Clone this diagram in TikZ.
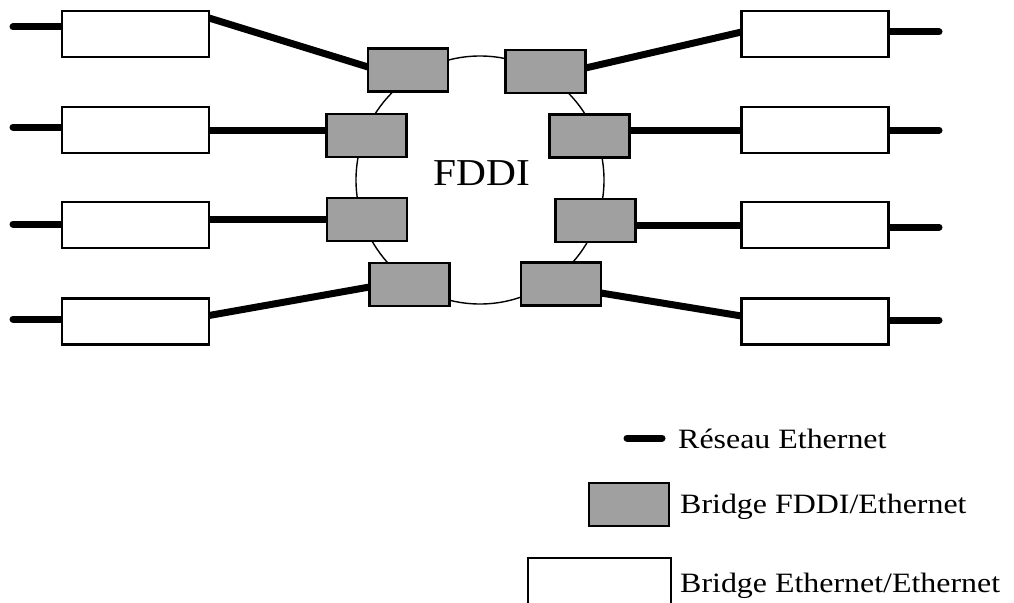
\documentclass[tikz,border=0pt]{standalone}
\usepackage{fontspec}
\setmainfont{Liberation Serif}
\usetikzlibrary{calc}
\pgfdeclarelayer{bg}
\pgfsetlayers{bg,main}
\definecolor{bgray}{RGB}{160,160,160}
\tikzset{
  ebox/.style={draw=black, line width=2.2pt, fill=white, minimum width=147pt, minimum height=46pt, inner sep=0pt, outer sep=0pt},
  fbox/.style={draw=black, line width=2.5pt, fill=bgray, minimum width=80pt, minimum height=43pt, inner sep=0pt, outer sep=0pt},
  eth/.style={line width=7pt, line cap=round},
  ringstyle/.style={draw=black, line width=1.4pt, circle, minimum size=248pt, inner sep=0pt, outer sep=0pt},
  lbl/.style={anchor=base west, inner sep=0pt, font=\fontsize{28}{30}\selectfont},
}
\begin{document}
\begin{tikzpicture}[x=1pt,y=-1pt]
\useasboundingbox (0,0) rectangle (1014,602);
\clip (0,0) rectangle (1014,602);
\begin{pgfonlayer}{bg}
  \fill[white] (0,0) rectangle (1014,602);
\end{pgfonlayer}

% FDDI ring
\node[ringstyle] (ring) at (480,180) {};
\node[anchor=base, inner sep=0pt, font=\fontsize{38}{40}\selectfont] (fddi) at (482,185) {\scalebox{1.09}[1]{FDDI}};

% Ethernet/Ethernet bridges
\node[ebox] (W1) at (135.5,34) {};
\node[ebox] (W2) at (135.5,130) {};
\node[ebox] (W3) at (135.5,225) {};
\node[ebox] (W4) at (135.5,321.5) {};
\node[ebox] (V1) at (815,34) {};
\node[ebox] (V2) at (815,130) {};
\node[ebox] (V3) at (815,225) {};
\node[ebox] (V4) at (815,321.5) {};

% FDDI/Ethernet bridges
\node[fbox] (B1) at (408,70) {};
\node[fbox] (B2) at (366.5,135.5) {};
\node[fbox] (B3) at (367,219.5) {};
\node[fbox] (B4) at (409.5,284.5) {};
\node[fbox] (C1) at (545.5,71.5) {};
\node[fbox] (C2) at (589.5,136) {};
\node[fbox] (C3) at (595.5,220.5) {};
\node[fbox] (C4) at (561,284) {};

% stub ends
\coordinate (s1) at (13,27);
\coordinate (s2) at (13,127);
\coordinate (s3) at (13,224);
\coordinate (s4) at (13,319);
\coordinate (t1) at (939,32);
\coordinate (t2) at (939,130);
\coordinate (t3) at (939,227);
\coordinate (t4) at (939,320);

\begin{pgfonlayer}{bg}
  % left stubs
  \draw[eth] (s1) -- (s1 -| W1.west);
  \draw[eth] (s2) -- (s2 -| W2.west);
  \draw[eth] (s3) -- (s3 -| W3.west);
  \draw[eth] (s4) -- (s4 -| W4.west);
  % right stubs
  \draw[eth] (t1) -- (t1 -| V1.east);
  \draw[eth] (t2) -- (t2 -| V2.east);
  \draw[eth] (t3) -- (t3 -| V3.east);
  \draw[eth] (t4) -- (t4 -| V4.east);
  % left connectors
  \draw[eth] ([yshift=16pt]W1.east) -- ([yshift=3pt]B1.west);
  \draw[eth] (W2.east) -- (W2.east -| B2.west);
  \draw[eth] (B3.west) -- (B3.west -| W3.east);
  \draw[eth] ([yshift=6pt]W4.east) -- ([yshift=-2.5pt]B4.west);
  % right connectors
  \draw[eth] ([yshift=3.5pt]C1.east) -- ([yshift=2pt]V1.west);
  \draw[eth] (V2.west) -- (V2.west -| C2.east);
  \draw[eth] (V3.west) -- (V3.west -| C3.east);
  \draw[eth] ([yshift=-9pt]C4.east) -- ([yshift=5.5pt]V4.west);
\end{pgfonlayer}

% legend
\coordinate (la) at (627,438);
\coordinate (lb) at (662,438);
\draw[eth] (la) -- (lb);
\node[lbl] (l1) at (678,448) {\scalebox{1.14}[1]{Réseau Ethernet}};
\node[fbox] (lg) at (629,504.5) {};
\node[lbl] (l2) at (680,513) {\scalebox{1.14}[1]{Bridge FDDI/Ethernet}};
\node[ebox, minimum width=143pt] (lw) at (599.5,581) {};
\node[lbl] (l3) at (680,592) {\scalebox{1.14}[1]{Bridge Ethernet/Ethernet}};
\end{tikzpicture}
\end{document}
